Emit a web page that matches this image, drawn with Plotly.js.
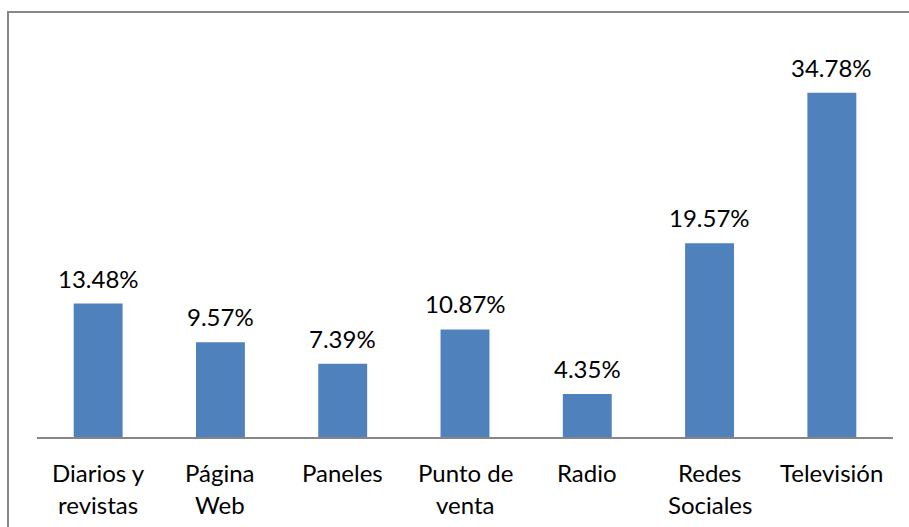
<!DOCTYPE html>
<html>
<head>
<meta charset="utf-8">
<script src="https://cdn.plot.ly/plotly-3.0.1.min.js"></script>
<style>
html,body{margin:0;padding:0;background:#fff;}
#wrap{position:relative;width:909px;height:527px;overflow:hidden;}
#chart{position:absolute;left:0;top:0;width:909px;height:527px;}
#frame{position:absolute;left:7px;top:11px;width:1000px;height:600px;border-top:2px solid #878787;border-left:2px solid #878787;pointer-events:none;}
</style>
</head>
<body>
<div id="wrap"><div id="chart"></div><div id="frame"></div></div>
<script>
var categories = ["Diarios y<br>revistas", "Página<br>Web", "Paneles", "Punto de<br>venta", "Radio", "Redes<br>Sociales", "Televisión"];
var values = [13.48, 9.57, 7.39, 10.87, 4.35, 19.57, 34.78];
var valueLabels = ["13.48%", "9.57%", "7.39%", "10.87%", "4.35%", "19.57%", "34.78%"];

var FONT = "Lato, 'Open Sans', sans-serif";
var annotations = [];
categories.forEach(function(cat, i){
  annotations.push({
    x: cat, y: values[i], xref: 'x', yref: 'y',
    text: valueLabels[i], showarrow: false,
    yanchor: 'bottom', yshift: 9,
    font: {family: FONT, size: 24, color: '#000'}
  });
  cat.split('<br>').forEach(function(line, j){
    annotations.push({
      x: cat, y: 0, xref: 'x', yref: 'paper',
      text: line, showarrow: false,
      yanchor: 'middle', yshift: -35 - 32*j,
      font: {family: FONT, size: 24, color: '#000'}
    });
  });
});

var trace = {
  type: 'bar',
  x: categories,
  y: values,
  marker: {color: '#4F81BD'},
  hoverinfo: 'none'
};

var layout = {
  width: 909, height: 527,
  margin: {l: 37, r: 16, t: 41, b: 90},
  paper_bgcolor: '#fff', plot_bgcolor: '#fff',
  showlegend: false,
  bargap: 0.6,
  xaxis: {type: 'category', showticklabels: false, ticks: '', showline: true,
          linecolor: '#868686', linewidth: 2, showgrid: false, zeroline: false, fixedrange: true},
  yaxis: {range: [0, 40], visible: false, showgrid: false, zeroline: false, fixedrange: true},
  annotations: annotations,
  font: {family: FONT}
};

Plotly.newPlot('chart', [trace], layout, {displayModeBar: false, staticPlot: true});
</script>
</body>
</html>
